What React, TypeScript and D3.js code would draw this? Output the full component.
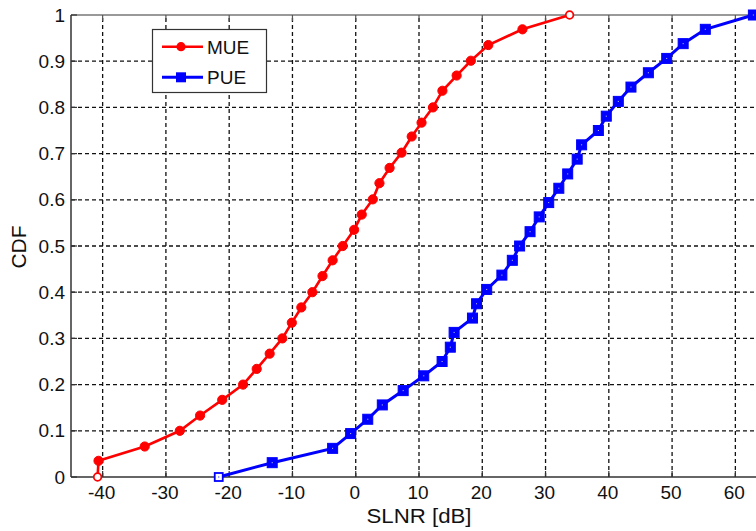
import React from "react";
import * as d3 from "d3";

const mueX = [-40.8, -40.65, -33.35, -27.8, -24.6, -21.1, -17.8, -15.65, -13.6, -11.6, -10.1, -8.6, -6.85, -5.25, -3.65, -2.05, -0.25, 0.95, 2.7, 3.75, 5.35, 7.25, 8.85, 10.4, 12.2, 13.7, 15.95, 18.2, 20.95, 26.35, 33.8];
const mueY = [0, 0.035, 0.066, 0.1, 0.133, 0.167, 0.2, 0.234, 0.267, 0.3, 0.334, 0.367, 0.4, 0.435, 0.469, 0.5, 0.535, 0.568, 0.601, 0.636, 0.669, 0.702, 0.737, 0.767, 0.8, 0.836, 0.869, 0.901, 0.935, 0.969, 1];

const pueX = [-21.65, -13.2, -3.65, -0.8, 1.9, 4.2, 7.5, 10.75, 13.65, 14.95, 15.55, 18.45, 19.1, 20.7, 23.1, 24.75, 25.9, 27.55, 29.0, 30.5, 32.1, 33.5, 35.0, 35.7, 38.35, 39.6, 41.5, 43.5, 46.25, 49.15, 51.75, 55.25, 62.85];
const pueY = [0, 0.031, 0.062, 0.094, 0.125, 0.156, 0.187, 0.219, 0.25, 0.281, 0.313, 0.344, 0.375, 0.406, 0.437, 0.469, 0.5, 0.531, 0.563, 0.594, 0.625, 0.656, 0.688, 0.719, 0.75, 0.781, 0.813, 0.844, 0.875, 0.906, 0.938, 0.969, 1];

const xTicks = [-40, -30, -20, -10, 0, 10, 20, 30, 40, 50, 60];
const yTicks = [0, 0.1, 0.2, 0.3, 0.4, 0.5, 0.6, 0.7, 0.8, 0.9, 1];
const seriesNames = ["MUE", "PUE"];

const W = 756;
const H = 531;
const FONT = "Liberation Sans, Arial, sans-serif";

export default function App() {
  const x = d3.scaleLinear().domain([-45, 65]).range([71, 767]);
  const y = d3.scaleLinear().domain([0, 1]).range([477, 15]);
  const line = d3.line<[number, number]>().x((d) => x(d[0])).y((d) => y(d[1]));
  const mue: [number, number][] = mueX.map((v, i) => [v, mueY[i]]);
  const pue: [number, number][] = pueX.map((v, i) => [v, pueY[i]]);
  const fmtY = (v: number) => (v === 0 ? "0" : v === 1 ? "1" : d3.format(".1f")(v));

  const red = "#ff0000";
  const blue = "#0000ff";

  return (
    <svg width={W} height={H} style={{ position: "absolute", left: 0, top: 0, background: "#fff" }} fontFamily={FONT}>
      <rect x={0} y={0} width={W} height={H} fill="#fff" />
      {/* grid */}
      {xTicks.map((t) => (
        <line key={"gx" + t} x1={x(t)} x2={x(t)} y1={y(0)} y2={y(1)} stroke="#111" strokeWidth={1.3} strokeDasharray="4,3" />
      ))}
      {yTicks.filter((t) => t > 0 && t < 1).map((t) => (
        <line key={"gy" + t} x1={71} x2={W} y1={y(t)} y2={y(t)} stroke="#111" strokeWidth={1.3} strokeDasharray="4,3" />
      ))}
      {/* axes */}
      <line x1={71} x2={W} y1={y(1)} y2={y(1)} stroke="#777" strokeWidth={1.5} />
      <line x1={71} x2={W} y1={y(0)} y2={y(0)} stroke="#333" strokeWidth={1.5} />
      <line x1={71} x2={71} y1={y(0)} y2={y(1)} stroke="#333" strokeWidth={1.5} />
      {xTicks.map((t) => (
        <g key={"tx" + t}>
          <line x1={x(t)} x2={x(t)} y1={y(0)} y2={y(0) - 6} stroke="#333" strokeWidth={1.2} />
          <line x1={x(t)} x2={x(t)} y1={y(1)} y2={y(1) + 6} stroke="#555" strokeWidth={1.2} />
          <text x={x(t) - 1} y={499} fontSize={19} textAnchor="middle" fill="#111">{t}</text>
        </g>
      ))}
      {yTicks.map((t) => (
        <g key={"ty" + t}>
          <line x1={71} x2={77} y1={y(t)} y2={y(t)} stroke="#333" strokeWidth={1.2} />
          <text x={65} y={y(t) + 6.5} fontSize={19} textAnchor="end" fill="#111">{fmtY(t)}</text>
        </g>
      ))}
      <text x={419} y={523} fontSize={20} textAnchor="middle" textLength={105} lengthAdjust="spacingAndGlyphs" fill="#111">SLNR [dB]</text>
      <text transform="translate(26,247) rotate(-90)" fontSize={20} textAnchor="middle" textLength={43} lengthAdjust="spacingAndGlyphs" fill="#111">CDF</text>

      {/* MUE */}
      <path d={line(mue) || ""} fill="none" stroke={red} strokeWidth={2.6} />
      {mue.map((d, i) => {
        const isEnd = i === 0 || i === mue.length - 1;
        return (
          <circle key={"m" + i} cx={x(d[0])} cy={y(d[1])} r={isEnd ? 3.8 : 4.6} fill={isEnd ? "#fff" : red} stroke={red} strokeWidth={isEnd ? 1.8 : 1} />
        );
      })}
      {/* PUE */}
      <path d={line(pue) || ""} fill="none" stroke={blue} strokeWidth={3} />
      {pue.map((d, i) => {
        const isEnd = i === 0;
        const s = isEnd ? 8 : 10;
        return (
          <g key={"p" + i}>
            <rect x={x(d[0]) - s / 2} y={y(d[1]) - s / 2} width={s} height={s} fill={isEnd ? "#fff" : blue} stroke={blue} strokeWidth={isEnd ? 1.8 : 1} />
            <rect x={x(d[0]) - 0.5} y={y(d[1]) - 0.5} width={1} height={1} fill={isEnd ? blue : "#ccd"} />
          </g>
        );
      })}

      {/* legend */}
      <rect x={152.5} y={29.5} width={114} height={63} fill="#fff" stroke="#333" strokeWidth={1.2} />
      {seriesNames.map((name, i) => {
        const cy = i === 0 ? 46.7 : 77.3;
        const col = i === 0 ? red : blue;
        return (
          <g key={name}>
            <line x1={162} x2={203} y1={cy} y2={cy} stroke={col} strokeWidth={i === 0 ? 2.6 : 3} />
            {i === 0 ? (
              <circle cx={181} cy={cy} r={4.6} fill={col} />
            ) : (
              <rect x={176} y={cy - 5} width={10} height={10} fill={col} />
            )}
            <text x={207} y={cy + 7} fontSize={19} fill="#111">{name}</text>
          </g>
        );
      })}
    </svg>
  );
}
